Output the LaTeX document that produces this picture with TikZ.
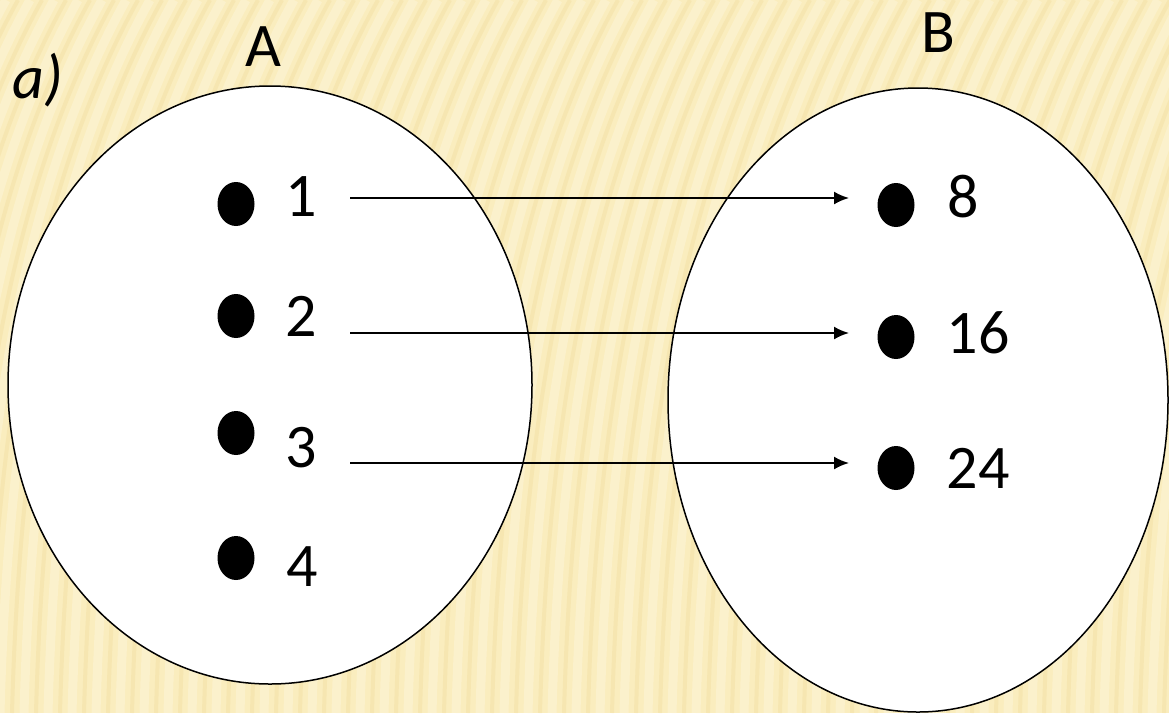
\documentclass[tikz,border=0pt]{standalone}
\usepackage{fontspec}
\setmainfont{Carlito}
\usetikzlibrary{arrows.meta,shapes.geometric}
\definecolor{bgbase}{HTML}{FAEDBE}
\definecolor{bglight}{HTML}{FDF5D8}
\definecolor{bgdark}{HTML}{EFD894}
\tikzset{
  dotm/.style={ellipse,fill=black,minimum width=37pt,minimum height=44pt,inner sep=0pt},
  lbl/.style={font=\fontsize{62}{70}\selectfont,inner sep=0pt},
  arr/.style={line width=2pt,-{Latex[length=15pt,width=13pt]}}
}
\begin{document}
\begin{tikzpicture}[x=1pt,y=-1pt]
\useasboundingbox (0,0) rectangle (1169,713);
\begin{scope}
\clip (0,0) rectangle (1169,713);
\fill[bgbase] (0,0) rectangle (1169,713);
\foreach \i in {-12,...,55}{
  \draw[bglight,line width=9pt,opacity=0.55] (\i*24,713) .. controls (\i*24+8,420) and (\i*24+50,180) .. (\i*24+150,0);
  \draw[bgdark,line width=4pt,opacity=0.3] (\i*24+12,713) .. controls (\i*24+20,420) and (\i*24+62,180) .. (\i*24+162,0);
}
% sets
\draw[draw=black,line width=1.5pt,fill=white] (270,385) ellipse [x radius=262,y radius=299];
\draw[draw=black,line width=1.5pt,fill=white] (918,400) ellipse [x radius=250,y radius=312];
\end{scope}
\node[lbl] (A) at (263,47) {A};
\node[lbl] (B) at (938,33) {B};
\node[lbl,font=\fontsize{62}{70}\selectfont\itshape] (lab) at (38,80) {a)};
% left dots
\node[dotm] (d1) at (236,204) {};
\node[dotm] (d2) at (236,316) {};
\node[dotm] (d3) at (236,433) {};
\node[dotm] (d4) at (236,558) {};
\node[lbl] (n1) at (301,197) {1};
\node[lbl] (n2) at (301,316) {2};
\node[lbl] (n3) at (301,448) {3};
\node[lbl] (n4) at (302,567) {4};
% right dots
\node[dotm] (r1) at (896,205) {};
\node[dotm] (r2) at (896,337) {};
\node[dotm] (r3) at (896,468) {};
\node[lbl] (m1) at (963,197) {8};
\node[lbl] (m2) at (978,333) {16};
\node[lbl] (m3) at (978,468) {24};
% arrows
\coordinate (s1) at (350,198);
\coordinate (s2) at (350,333);
\coordinate (s3) at (350,463);
\coordinate (e1) at (849,198);
\coordinate (e2) at (849,333);
\coordinate (e3) at (849,463);
\draw[arr] (s1) -- (e1);
\draw[arr] (s2) -- (e2);
\draw[arr] (s3) -- (e3);
\end{tikzpicture}
\end{document}
